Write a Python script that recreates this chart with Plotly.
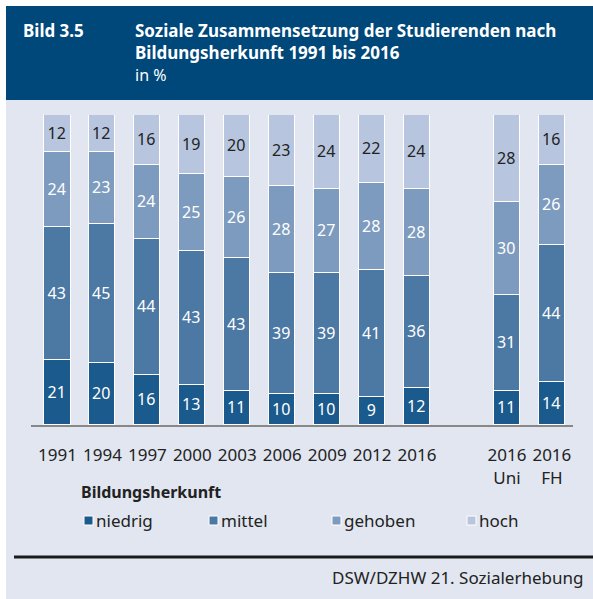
import plotly.graph_objects as go

# ---- data ----
categories = ["1991", "1994", "1997", "2000", "2003", "2006", "2009", "2012", "2016",
              "2016<br>Uni", "2016<br>FH"]
niedrig = [21, 20, 16, 13, 11, 10, 10, 9, 12, 11, 14]
mittel = [43, 45, 44, 43, 43, 39, 39, 41, 36, 31, 44]
gehoben = [24, 23, 24, 25, 26, 28, 27, 28, 28, 30, 26]
hoch = [12, 12, 16, 19, 20, 23, 24, 22, 24, 28, 16]
series_names = ["niedrig", "mittel", "gehoben", "hoch"]
series_values = [niedrig, mittel, gehoben, hoch]
colors = ["#1b5a8c", "#4c78a4", "#7d9bbe", "#b7c6de"]
text_colors = ["white", "white", "white", "#222222"]

title_label = "Bild 3.5"
title_lines = ["Soziale Zusammensetzung der Studierenden nach",
               "Bildungsherkunft 1991 bis 2016"]
subtitle = "in %"
legend_title = "Bildungsherkunft"
source = "DSW/DZHW 21. Sozialerhebung"

# ---- layout geometry (pixels) ----
W, H = 593, 599
L, R, T, B = 31, 573, 115, 425
FONT = "Noto Sans"

def px(x):
    return (x - L) / (R - L)

def py(y):
    return 1 - (y - T) / (B - T)

# slot positions: blank slot between overall series and Uni/FH
xpos = [i if i < 9 else i + 1 for i in range(len(categories))]

fig = go.Figure()
for name, vals, col, tcol in zip(series_names, series_values, colors, text_colors):
    fig.add_trace(go.Bar(
        x=xpos, y=vals, name=name, width=0.58,
        marker=dict(color=col, line=dict(color="white", width=1.5)),
        text=[str(v) for v in vals], textposition="inside",
        insidetextanchor="middle", textangle=0, constraintext="none",
        insidetextfont=dict(family=FONT, size=16, color=tcol),
        showlegend=False, hoverinfo="skip",
    ))

shapes = []
annotations = []
# header band
shapes.append(dict(type="rect", xref="paper", yref="paper", layer="below",
                   x0=px(6), x1=px(W + 2), y0=py(6), y1=py(100),
                   fillcolor="#00477a", line=dict(width=0)))
# light background
shapes.append(dict(type="rect", xref="paper", yref="paper", layer="below",
                   x0=px(6), x1=px(W + 2), y0=py(100), y1=py(H + 2),
                   fillcolor="#e1e6f0", line=dict(width=0)))
# black rule above source
shapes.append(dict(type="line", xref="paper", yref="paper",
                   x0=px(14), x1=px(W + 2), y0=py(557), y1=py(557),
                   line=dict(color="#1a1a1a", width=3)))

annotations.append(dict(xref="paper", yref="paper", x=px(21), y=py(30),
                        xanchor="left", yanchor="middle", showarrow=False,
                        text="<b>" + title_label + "</b>",
                        font=dict(family=FONT, size=17, color="white")))
for i, line in enumerate(title_lines):
    annotations.append(dict(xref="paper", yref="paper", x=px(133), y=py(30 + 22 * i),
                            xanchor="left", yanchor="middle", showarrow=False,
                            text="<b>" + line + "</b>",
                            font=dict(family=FONT, size=17, color="white")))
annotations.append(dict(xref="paper", yref="paper", x=px(133), y=py(75),
                        xanchor="left", yanchor="middle", showarrow=False,
                        text=subtitle,
                        font=dict(family=FONT, size=16, color="white")))

# legend (manual)
annotations.append(dict(xref="paper", yref="paper", x=px(79), y=py(492),
                        xanchor="left", yanchor="middle", showarrow=False,
                        text="<b>" + legend_title + "</b>",
                        font=dict(family=FONT, size=16, color="#222222")))
legend_x = [84, 209, 332, 467]
for lx, name, col in zip(legend_x, series_names, colors):
    shapes.append(dict(type="rect", xref="paper", yref="paper",
                       x0=px(lx), x1=px(lx + 9), y0=py(516), y1=py(525),
                       fillcolor=col, line=dict(color="white", width=1)))
    annotations.append(dict(xref="paper", yref="paper", x=px(lx + 10), y=py(520),
                            xanchor="left", yanchor="middle", showarrow=False,
                            text=name,
                            font=dict(family=FONT, size=17, color="#222222")))

annotations.append(dict(xref="paper", yref="paper", x=px(585), y=py(577),
                        xanchor="right", yanchor="middle", showarrow=False,
                        text=source,
                        font=dict(family=FONT, size=17, color="#222222")))

fig.update_layout(
    width=W, height=H,
    margin=dict(l=L, r=W - R, t=T, b=H - B, pad=0),
    paper_bgcolor="white", plot_bgcolor="rgba(0,0,0,0)",
    barmode="stack", bargap=0,
    uniformtext=dict(mode="show", minsize=16),
    shapes=shapes, annotations=annotations,
    xaxis=dict(range=[-0.59, 11.47], tickmode="array", tickvals=xpos, ticktext=categories,
               showgrid=False, zeroline=False, showline=True, linecolor="#888888",
               linewidth=2, ticks="", ticklabelstandoff=14,
               tickfont=dict(family=FONT, size=17, color="#222222"), fixedrange=True),
    yaxis=dict(range=[0, 100], visible=False, fixedrange=True),
    font=dict(family=FONT),
)

fig.write_html("out.html", config={"displayModeBar": False},
               post_script="document.body.style.margin='0';document.body.style.overflow='hidden';")
